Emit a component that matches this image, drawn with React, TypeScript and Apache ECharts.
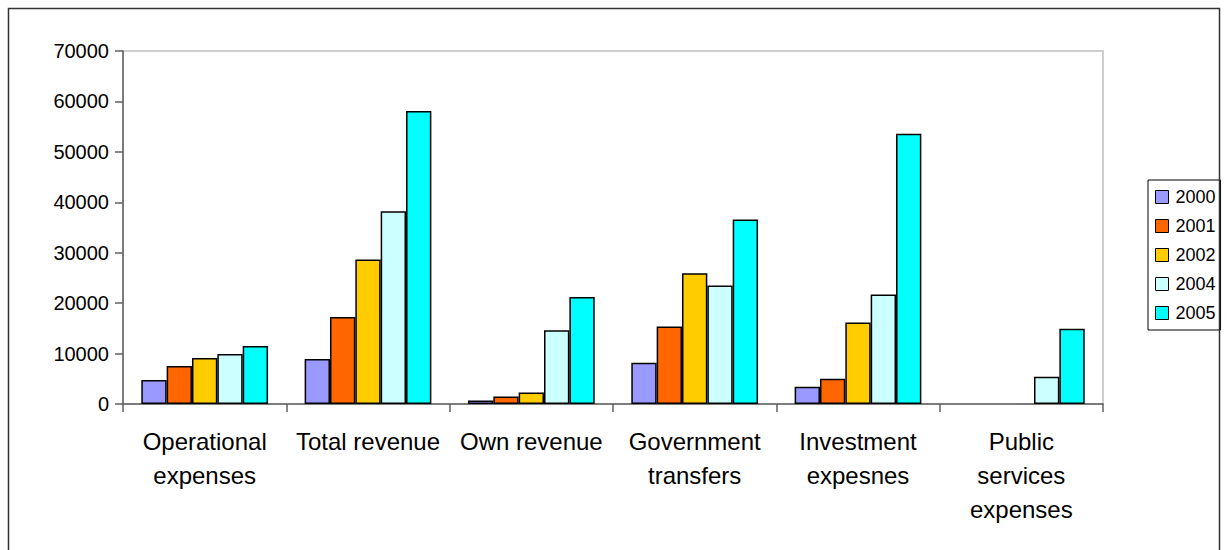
import React, { useEffect, useRef } from "react";
import * as echarts from "echarts";

const categories = [
  "Operational\nexpenses",
  "Total revenue",
  "Own revenue",
  "Government\ntransfers",
  "Investment\nexpesnes",
  "Public\nservices\nexpenses",
];
const seriesNames = ["2000", "2001", "2002", "2004", "2005"];
const values2000 = [4750, 8900, 700, 8200, 3400, null];
const values2001 = [7550, 17250, 1500, 15350, 5000, null];
const values2002 = [9100, 28650, 2300, 25950, 16150, null];
const values2004 = [9930, 38200, 14600, 23500, 21700, 5400];
const values2005 = [11500, 58100, 21200, 36600, 53600, 14900];
const colors = ["#9999FF", "#FF6600", "#FFCC00", "#CCFFFF", "#00FFFF"];
const yTicks = { min: 0, max: 70000, interval: 10000 };

const FONT = "'Liberation Sans', Arial, sans-serif";

export default function App() {
  const ref = useRef<HTMLDivElement>(null);
  useEffect(() => {
    if (!ref.current) return;
    const chart = echarts.init(ref.current, null, { renderer: "svg" });
    const all = [values2000, values2001, values2002, values2004, values2005];
    chart.setOption({
      animation: false,
      backgroundColor: "#ffffff",
      graphic: [
        {
          type: "rect",
          shape: { x: 8.5, y: 8.5, width: 1211, height: 700 },
          style: { fill: "none", stroke: "#333333", lineWidth: 1.5 },
          silent: true,
          z: 100,
        },
      ],
      grid: {
        left: 123,
        right: 124,
        top: 51,
        bottom: 146,
        show: true,
        borderColor: "#c0c0c0",
        borderWidth: 1.5,
        backgroundColor: "transparent",
      },
      legend: {
        orient: "vertical",
        left: 1148,
        top: 180,
        data: seriesNames,
        icon: "rect",
        itemWidth: 13,
        itemHeight: 13,
        itemGap: 9,
        padding: [7, 5, 7, 7],
        borderColor: "#000000",
        borderWidth: 1,
        itemStyle: { borderColor: "#000000", borderWidth: 1 },
        textStyle: {
          fontFamily: FONT,
          fontSize: 18,
          color: "#000000",
          lineHeight: 20,
          padding: [0, 0, 0, 2],
        },
      },
      xAxis: {
        type: "category",
        data: categories,
        axisLine: { show: true, lineStyle: { color: "#606060", width: 1.5 } },
        axisTick: { show: true, length: 8, lineStyle: { color: "#606060", width: 1.5 } },
        axisLabel: {
          interval: 0,
          margin: 20,
          fontFamily: FONT,
          fontSize: 24,
          color: "#000000",
          lineHeight: 34,
        },
      },
      yAxis: {
        type: "value",
        min: yTicks.min,
        max: yTicks.max,
        interval: yTicks.interval,
        splitLine: { show: false },
        axisLine: { show: true, lineStyle: { color: "#606060", width: 1.5 } },
        axisTick: { show: true, length: 8, lineStyle: { color: "#606060", width: 1.5 } },
        axisLabel: {
          margin: 14,
          fontFamily: FONT,
          fontSize: 20,
          color: "#000000",
          formatter: (v: number) => String(v),
        },
      },
      series: seriesNames.map((name, i) => ({
        name,
        type: "bar",
        data: all[i],
        barGap: "0%",
        barCategoryGap: "22.4%",
        itemStyle: { color: colors[i], borderColor: "#000000", borderWidth: 1.5 },
      })),
    });
    return () => chart.dispose();
  }, []);
  return (
    <div style={{ position: "absolute", left: 0, top: 0, width: 1227, height: 550, overflow: "hidden" }}>
      <div ref={ref} style={{ width: 1227, height: 550 }} />
    </div>
  );
}
